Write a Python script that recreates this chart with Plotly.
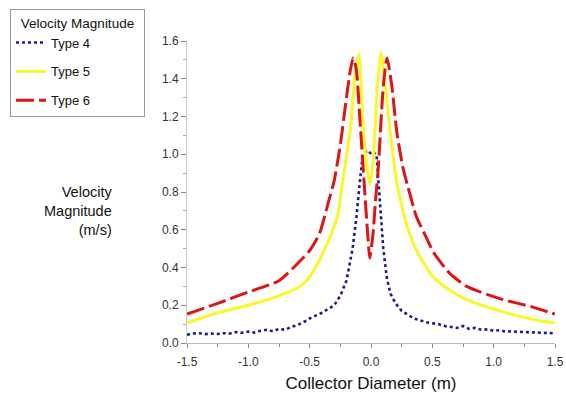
import plotly.graph_objects as go

# ---- data ----
x_type6 = [-1.5, -1.25, -1.0, -0.75, -0.6, -0.5, -0.42, -0.35, -0.3, -0.25, -0.2, -0.17, -0.146, -0.12,
           -0.09, -0.05, -0.025, -0.01, 0.015, 0.04, 0.06, 0.1, 0.131, 0.17, 0.21, 0.26, 0.3, 0.37, 0.45,
           0.51, 0.64, 0.78, 1.05, 1.32, 1.5]
y_type6 = [0.153, 0.21, 0.27, 0.33, 0.42, 0.49, 0.58, 0.74, 0.86, 1.05, 1.30, 1.44, 1.51, 1.45,
           1.18, 0.79, 0.56, 0.45, 0.57, 0.78, 0.93, 1.36, 1.51, 1.36, 1.12, 0.93, 0.83, 0.67, 0.56,
           0.48, 0.37, 0.30, 0.235, 0.19, 0.153]

x_type5 = [-1.5, -1.25, -1.0, -0.75, -0.58, -0.5, -0.42, -0.31, -0.27, -0.23, -0.17, -0.13, -0.098,
           -0.065, -0.037, -0.01, 0.02, 0.05, 0.08, 0.112, 0.153, 0.208, 0.289, 0.371, 0.507, 0.643,
           0.779, 1.05, 1.32, 1.5]
y_type5 = [0.106, 0.16, 0.20, 0.25, 0.30, 0.35, 0.44, 0.60, 0.68, 0.86, 1.12, 1.42, 1.53,
           1.16, 0.95, 0.84, 0.98, 1.34, 1.54, 1.39, 1.14, 0.86, 0.63, 0.49, 0.35, 0.28,
           0.23, 0.17, 0.125, 0.106]

x_type4 = [-1.5, -1.45, -1.4, -1.35, -1.3, -1.25, -1.2, -1.15, -1.1, -1.05, -1.0, -0.95, -0.9, -0.85,
           -0.8, -0.75, -0.7, -0.65, -0.6, -0.55, -0.5, -0.45, -0.4, -0.35, -0.3, -0.25, -0.2, -0.15,
           -0.12, -0.09, -0.07, -0.05, -0.02, 0.0, 0.02, 0.045, 0.06, 0.08, 0.1, 0.13, 0.16, 0.2, 0.25,
           0.3, 0.35, 0.4, 0.45, 0.5, 0.55, 0.6, 0.65, 0.7, 0.75, 0.8, 0.85, 0.9, 0.95, 1.0, 1.05, 1.1,
           1.15, 1.2, 1.25, 1.3, 1.35, 1.4, 1.45, 1.5]
y_type4 = [0.044, 0.05, 0.052, 0.047, 0.05, 0.048, 0.052, 0.05, 0.058, 0.054, 0.06, 0.055, 0.065, 0.07,
           0.062, 0.075, 0.07, 0.085, 0.095, 0.11, 0.13, 0.145, 0.16, 0.18, 0.2, 0.25, 0.33, 0.5,
           0.66, 0.86, 0.98, 1.01, 1.02, 1.0, 1.01, 1.0, 0.86, 0.68, 0.5, 0.34, 0.26, 0.21, 0.17,
           0.15, 0.13, 0.12, 0.11, 0.105, 0.1, 0.09, 0.085, 0.08, 0.09, 0.075, 0.08, 0.07, 0.072, 0.065,
           0.068, 0.06, 0.062, 0.058, 0.06, 0.055, 0.057, 0.052, 0.055, 0.048]

x_ticks = [-1.5, -1.0, -0.5, 0.0, 0.5, 1.0, 1.5]
y_ticks = [0.0, 0.2, 0.4, 0.6, 0.8, 1.0, 1.2, 1.4, 1.6]

FONT = "Liberation Sans, Arial, sans-serif"

fig = go.Figure()
fig.add_trace(go.Scatter(x=x_type4, y=y_type4, mode="lines", name="Type 4", legendgroup="a",
                         line=dict(color="#1c1c8c", width=2.6, dash="dot")))
fig.add_trace(go.Scatter(x=x_type5, y=y_type5, mode="lines", name="Type 5", legendgroup="b",
                         line=dict(color="#f8f82a", width=3, shape="spline", smoothing=0.6)))
fig.add_trace(go.Scatter(x=x_type6, y=y_type6, mode="lines", name="Type 6", legendgroup="c",
                         line=dict(color="#dd1515", width=3, dash="18px,5px", shape="spline", smoothing=0.6)))

PW, PH = 368, 302  # plot area size in px (for placing legend/annotation)
fig.update_layout(
    width=566, height=399,
    margin=dict(l=187, r=11, t=41, b=56, autoexpand=False),
    paper_bgcolor="white", plot_bgcolor="white",
    font=dict(family=FONT, color="#333333", size=12),
    showlegend=True,
    legend=dict(
        title=dict(text="&nbsp;&nbsp;Velocity Magnitude&nbsp;&nbsp;",
                   font=dict(size=13.5, color="#111"), side="top center"),
        x=(10 - 187) / PW, xanchor="left", y=1 + (41 - 9) / PH, yanchor="top",
        bordercolor="#999999", borderwidth=1, bgcolor="white",
        font=dict(size=13, color="#111"),
        tracegroupgap=9, itemwidth=30,
    ),
    xaxis=dict(
        range=[-1.5, 1.5], tickvals=x_ticks, ticktext=[f"{v:.1f}" for v in x_ticks],
        showgrid=False, zeroline=False, showline=True, linecolor="#bbbbbb", linewidth=1,
        ticks="outside", ticklen=4, tickcolor="#888888",
        minor=dict(dtick=0.25, ticks="outside", ticklen=3, tickcolor="#888888"),
        tickfont=dict(size=12, color="#333"), ticklabelstandoff=4,
        title=dict(text="Collector Diameter (m)", font=dict(size=17, color="#111"), standoff=8),
    ),
    yaxis=dict(
        range=[0, 1.6], tickvals=y_ticks, ticktext=[f"{v:.1f}" for v in y_ticks],
        showgrid=False, zeroline=False, showline=True, linecolor="#cccccc", linewidth=1,
        ticks="outside", ticklen=5, tickcolor="#888888",
        minor=dict(dtick=0.1, ticks="outside", ticklen=3, tickcolor="#aaaaaa"),
        tickfont=dict(size=12, color="#333"),
    ),
    annotations=[dict(
        text="Velocity<br>Magnitude<br>(m/s)", xref="paper", yref="paper",
        x=(114 - 187) / PW, y=(343 - 211) / PH, xanchor="right", yanchor="middle",
        showarrow=False, font=dict(size=14.5, color="#111"), align="right",
    )],
)

fig.write_html("out.html")
